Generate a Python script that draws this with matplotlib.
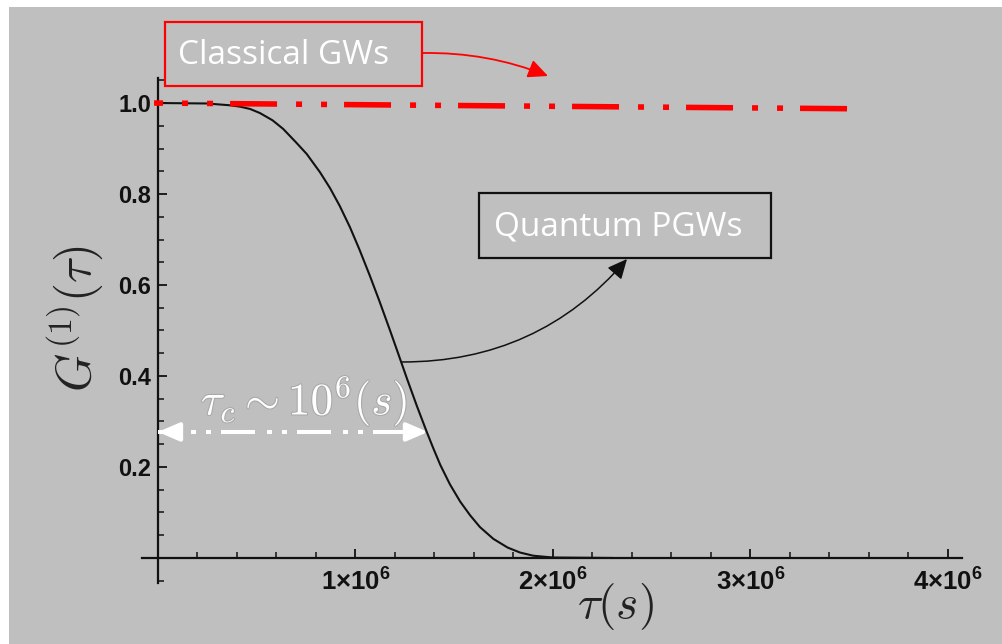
import matplotlib
matplotlib.use("Agg")
import matplotlib.pyplot as plt
import matplotlib.ticker as mticker
from matplotlib.patches import Rectangle
import matplotlib.patheffects as pe

# ---------------- data ----------------
tau_quantum = [0.0, 0.247, 0.365, 0.415, 0.466, 0.516, 0.58, 0.634, 0.70, 0.753,
               0.82, 0.871, 0.92, 0.972, 1.02, 1.073, 1.12, 1.175, 1.21, 1.26,
               1.31, 1.36, 1.394, 1.43, 1.478, 1.53, 1.58, 1.63, 1.698, 1.77,
               1.833, 1.90, 2.0, 2.3]
G_quantum = [1.0, 0.999, 0.995, 0.992, 0.987, 0.978, 0.962, 0.943, 0.913, 0.888,
             0.848, 0.813, 0.774, 0.727, 0.678, 0.620, 0.566, 0.500, 0.457, 0.395,
             0.335, 0.278, 0.241, 0.204, 0.162, 0.124, 0.094, 0.068, 0.042, 0.023,
             0.012, 0.005, 0.001, 0.0]
tau_quantum = [t * 1e6 for t in tau_quantum]

tau_classical = [-0.02e6, 3.494e6]
G_classical = [1.0, 0.9875]

tau_c_arrow = [0.0, 1.367e6]
G_c_arrow = [0.277, 0.277]

x_ticks = [1e6, 2e6, 3e6, 4e6]
x_tick_labels = [r"$\mathbf{1{\times}10^{6}}$", r"$\mathbf{2{\times}10^{6}}$",
                 r"$\mathbf{3{\times}10^{6}}$", r"$\mathbf{4{\times}10^{6}}$"]
y_ticks = [0.2, 0.4, 0.6, 0.8, 1.0]
y_tick_labels = ["0.2", "0.4", "0.6", "0.8", "1.0"]

label_classical = "Classical GWs"
label_quantum = "Quantum PGWs"

# ---------------- style ----------------
plt.rcParams["mathtext.fontset"] = "custom"
plt.rcParams["mathtext.rm"] = "Liberation Sans"
plt.rcParams["mathtext.bf"] = "Liberation Sans:bold"

W, H = 1003, 644
BG = "#bfbfbf"


def fp(x, y):
    """pixel (from top-left) -> figure fraction"""
    return (x / W, 1 - y / H)


fig = plt.figure(figsize=(W / 100, H / 100), dpi=100)
fig.patch.set_facecolor("white")
fig.add_artist(Rectangle((9 / W, 0), 1 - 9 / W, 1 - 7 / H, transform=fig.transFigure,
                         facecolor=BG, edgecolor="none", zorder=-10))

ax = fig.add_axes([142.2 / W, 1 - 583 / H, (961.8 - 142.2) / W, 505 / H])
ax.patch.set_alpha(0)
ax.set_xlim(-0.08e6, 4.07e6)
ax.set_ylim(-0.055, 1.055)

for s in ["top", "right"]:
    ax.spines[s].set_visible(False)
for s in ["left", "bottom"]:
    ax.spines[s].set_position(("data", 0))
    ax.spines[s].set_linewidth(1.6)
    ax.spines[s].set_color("#111111")

ax.set_xticks(x_ticks)
ax.set_xticklabels(x_tick_labels)
ax.set_yticks(y_ticks)
ax.set_yticklabels(y_tick_labels)
ax.xaxis.set_minor_locator(mticker.MultipleLocator(0.2e6))
ax.yaxis.set_minor_locator(mticker.MultipleLocator(0.05))
ax.tick_params(which="major", direction="in", length=6.5, width=1.3, color="#111111")
ax.tick_params(which="minor", direction="in", length=4, width=1.1, color="#111111")
ax.tick_params(axis="x", which="major", pad=8.5, labelsize=18.5)
ax.tick_params(axis="y", which="major", pad=5, labelsize=17)
for lab in ax.get_yticklabels():
    lab.set_fontfamily("Liberation Sans")
    lab.set_fontweight("bold")
    lab.set_color("#111111")
for lab in ax.get_xticklabels():
    lab.set_color("#111111")

# axis labels
ax.set_ylabel(r"$G^{(1)}(\tau)$", fontsize=35, color="#222222", math_fontfamily="cm",
              va="center")
ax.yaxis.set_label_coords((75 - 142.2) / 819.6, (583 - 318) / 505)
ax.set_xlabel(r"$\tau(s)$", fontsize=34, color="#222222", math_fontfamily="cm", va="center")
ax.xaxis.set_label_coords((615 - 142.2) / 819.6, (583 - 606) / 505)

# curves
ax.plot(tau_quantum, G_quantum, color="#111111", lw=1.5, zorder=3)

lw_red = 4.0
f = 0.72 / lw_red
ax.plot(tau_classical, G_classical, color="#ff0000", lw=lw_red, zorder=4, clip_on=False,
        linestyle=(38 * f, (47 * f, 19 * f, 6 * f, 19 * f, 6 * f, 17 * f)))

# white double arrow for tau_c
lw_w = 2.9
g = 0.72 / lw_w
ax.plot(tau_c_arrow, G_c_arrow, color="white", lw=lw_w, zorder=5,
        linestyle=(13 * g, (34 * g, 12 * g, 5 * g, 10 * g, 5 * g, 10 * g)))
for a, b in [(0, 1), (1, 0)]:
    ax.annotate("", xy=(tau_c_arrow[a], G_c_arrow[a]),
                xytext=(tau_c_arrow[a] + (tau_c_arrow[b] - tau_c_arrow[a]) * 0.07, G_c_arrow[a]),
                arrowprops=dict(arrowstyle="-|>,head_length=0.65,head_width=0.28",
                                mutation_scale=20, color="white", lw=2.9,
                                shrinkA=0, shrinkB=0), zorder=6)

ax.text(0.74e6, 0.345, r"$\tau_c \sim 10^6(s)$", fontsize=32.5, color="white",
        math_fontfamily="cm", ha="center", va="center", zorder=6,
        path_effects=[pe.withStroke(linewidth=1.5, foreground="#a8a8a8")])

# annotation boxes
fig.add_artist(Rectangle(fp(165, 86), (422 - 165) / W, (86 - 22) / H, transform=fig.transFigure,
                         facecolor="none", edgecolor="#ff0000", lw=1.6, zorder=7))
fig.text(*fp(284, 55), label_classical, color="white", fontsize=24, family="Open Sans",
         ha="center", va="center", zorder=8)
fig.add_artist(Rectangle(fp(479, 258), (771 - 479) / W, (258 - 193) / H, transform=fig.transFigure,
                         facecolor="none", edgecolor="#111111", lw=1.6, zorder=7))
fig.text(*fp(618, 227), label_quantum, color="white", fontsize=24, family="Open Sans",
         ha="center", va="center", zorder=8)

# connector arrows
fig.add_artist(matplotlib.text.Annotation(
    "", xy=fp(548, 76), xytext=fp(423, 53), xycoords="figure fraction",
    textcoords="figure fraction",
    arrowprops=dict(arrowstyle="-|>,head_length=0.6,head_width=0.28", mutation_scale=20,
                    color="#ff0000", lw=1.3, shrinkA=0, shrinkB=0,
                    connectionstyle="arc3,rad=-0.1")))
fig.add_artist(matplotlib.text.Annotation(
    "", xy=fp(627, 259), xytext=fp(402, 362), xycoords="figure fraction",
    textcoords="figure fraction",
    arrowprops=dict(arrowstyle="-|>,head_length=0.6,head_width=0.28", mutation_scale=20,
                    color="#111111", lw=1.1, shrinkA=0, shrinkB=0,
                    connectionstyle="arc3,rad=0.23")))

fig.savefig("out.png", dpi=100, facecolor=fig.get_facecolor())
